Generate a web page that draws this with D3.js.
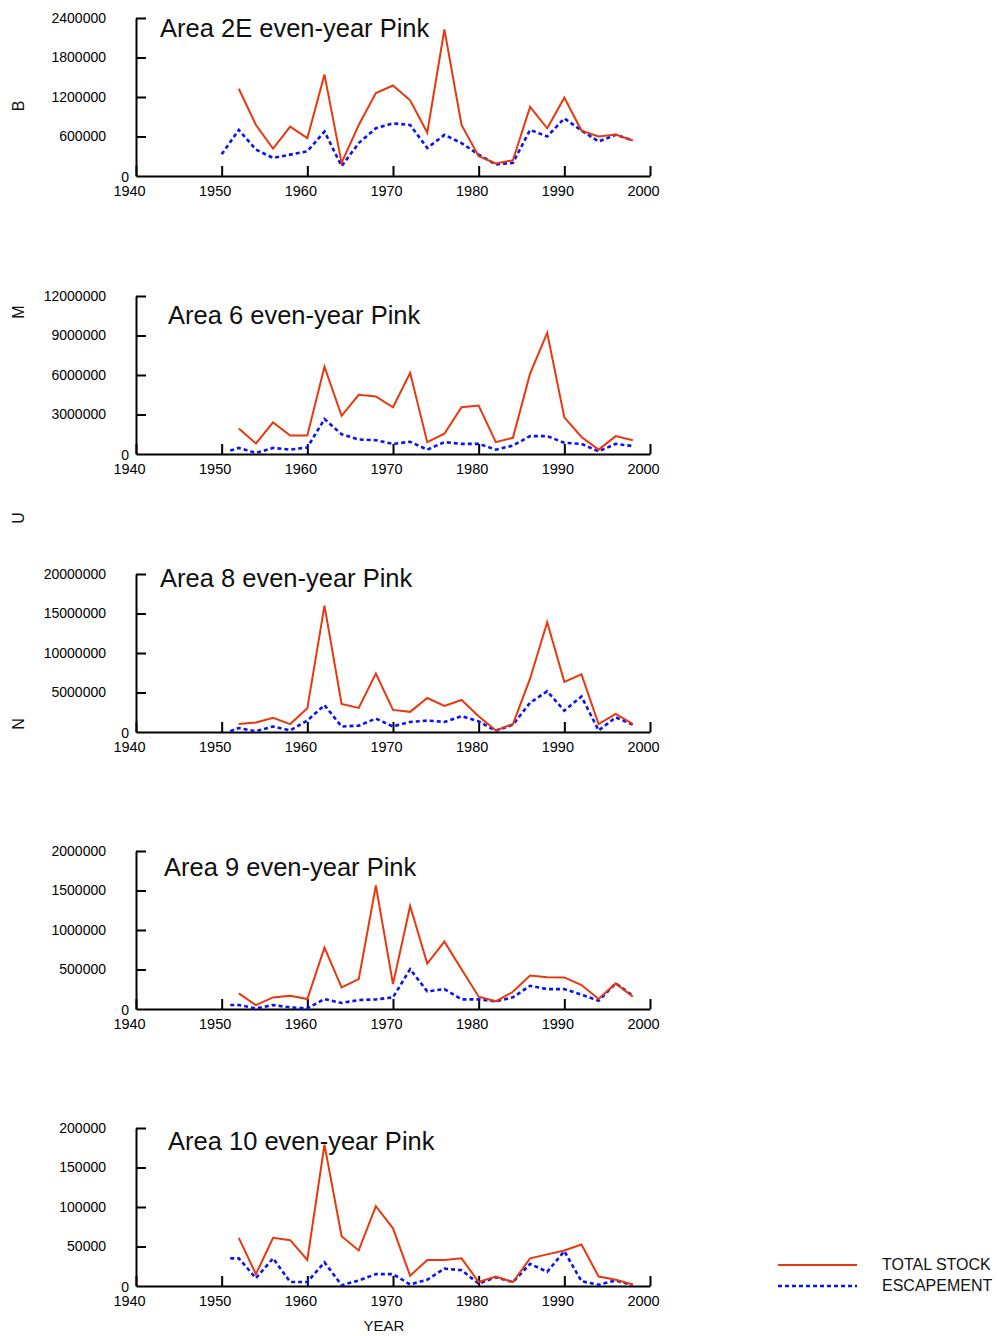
<!DOCTYPE html>
<html>
<head>
<meta charset="utf-8">
<script src="https://cdn.jsdelivr.net/npm/d3@7"></script>
<style>
  body { margin: 0; background: #fff; }
  svg { display: block; font-family: "Liberation Sans", Arial, sans-serif; }
</style>
</head>
<body>
<div id="chart"></div>
<script>
// even years of the total stock (red line)
const totalYears = [1952, 1954, 1956, 1958, 1960, 1962, 1964, 1966, 1968, 1970, 1972, 1974,
                    1976, 1978, 1980, 1982, 1984, 1986, 1988, 1990, 1992, 1994, 1996, 1998];
// escapement (blue dots) starts a little earlier
const escYears2E = [1950, 1952, 1954, 1956, 1958, 1960, 1962, 1964, 1966, 1968, 1970, 1972, 1974,
                    1976, 1978, 1980, 1982, 1984, 1986, 1988, 1990, 1992, 1994, 1996, 1998];
const escYears = [1951, 1952, 1954, 1956, 1958, 1960, 1962, 1964, 1966, 1968, 1970, 1972, 1974,
                  1976, 1978, 1980, 1982, 1984, 1986, 1988, 1990, 1992, 1994, 1996, 1998];

const total2E = [1325000, 775000, 415000, 750000, 575000, 1540000, 200000, 775000, 1260000, 1375000, 1150000, 660000,
                 2225000, 775000, 300000, 190000, 240000, 1050000, 725000, 1190000, 690000, 600000, 630000, 540000];
const esc2E = [330000, 700000, 400000, 275000, 325000, 375000, 675000, 150000, 500000, 725000, 800000, 775000, 425000,
               625000, 500000, 325000, 175000, 200000, 700000, 600000, 875000, 690000, 525000, 625000, 540000];

const total6 = [1940000, 800000, 2400000, 1400000, 1400000, 6630000, 2900000, 4500000, 4370000, 3550000, 6170000, 900000,
                1540000, 3550000, 3680000, 900000, 1230000, 6100000, 9200000, 2780000, 1290000, 330000, 1360000, 1050000];
const esc6 = [260000, 460000, 80000, 460000, 330000, 500000, 2650000, 1500000, 1100000, 1050000, 770000, 930000, 330000,
              900000, 770000, 770000, 330000, 640000, 1360000, 1360000, 850000, 770000, 200000, 770000, 600000];

const total8 = [1000000, 1200000, 1800000, 1000000, 3000000, 16000000, 3550000, 3050000, 7400000, 2800000, 2550000, 4300000,
                3300000, 4050000, 2000000, 200000, 1000000, 6750000, 13900000, 6350000, 7300000, 1000000, 2300000, 1000000];
const esc8 = [100000, 500000, 100000, 700000, 200000, 1450000, 3400000, 700000, 800000, 1700000, 700000, 1270000, 1450000,
              1270000, 2000000, 1350000, 150000, 930000, 3700000, 5150000, 2700000, 4500000, 200000, 1850000, 930000];

const total9 = [197000, 50000, 147000, 168000, 126000, 777000, 273000, 378000, 1563000, 315000, 1303000, 576000,
                853000, 504000, 155000, 97000, 218000, 424000, 403000, 400000, 303000, 126000, 324000, 155000];
const esc9 = [50000, 50000, 8000, 50000, 20000, 8000, 126000, 76000, 113000, 122000, 147000, 504000, 223000,
              252000, 122000, 122000, 97000, 147000, 294000, 252000, 252000, 181000, 105000, 324000, 168000];

const total10 = [61000, 15000, 61000, 58000, 33000, 179000, 63000, 45000, 101000, 73000, 13000, 33000,
                 33000, 35000, 5000, 12000, 5000, 35000, 40000, 45000, 52500, 12000, 8000, 2000];
const esc10 = [35000, 35000, 10000, 35000, 5000, 5000, 30000, 1000, 7000, 15000, 15000, 2000, 8000,
               22000, 20000, 3000, 11000, 5000, 28000, 18000, 44000, 6000, 1500, 7000, 1000];

const yTicks2E = [0, 600000, 1200000, 1800000, 2400000];
const yTicks6 = [0, 3000000, 6000000, 9000000, 12000000];
const yTicks8 = [0, 5000000, 10000000, 15000000, 20000000];
const yTicks9 = [0, 500000, 1000000, 1500000, 2000000];
const yTicks10 = [0, 50000, 100000, 150000, 200000];

const xTicks = [1940, 1950, 1960, 1970, 1980, 1990, 2000];

const titles = ["Area 2E even-year Pink", "Area 6 even-year Pink", "Area 8 even-year Pink",
                "Area 9 even-year Pink", "Area 10 even-year Pink"];
const sideLetters = ["B", "M", "U", "N"];
const legendLabels = ["TOTAL STOCK", "ESCAPEMENT"];

const RED = "#e8380e", BLUE = "#0a14f0";

const panels = [
    { title: titles[0], total: total2E, escYears: escYears2E, esc: esc2E, ticks: yTicks2E },
    { title: titles[1], total: total6, escYears: escYears, esc: esc6, ticks: yTicks6 },
    { title: titles[2], total: total8, escYears: escYears, esc: esc8, ticks: yTicks8 },
    { title: titles[3], total: total9, escYears: escYears, esc: esc9, ticks: yTicks9 },
    { title: titles[4], total: total10, escYears: escYears, esc: esc10, ticks: yTicks10 }
];

// layout (pixels)
const panelTops = [18, 296, 574, 851, 1128];
const panelH = 158;
const titlePos = [[160, 37], [168, 324], [160, 587], [164, 876], [168, 1150]];
const letterY = [106, 312, 518, 724];

const width = 997, height = 1336;
const svg = d3.select("#chart").append("svg").attr("width", width).attr("height", height);
svg.append("rect").attr("width", width).attr("height", height).attr("fill", "#fff");

const x = d3.scaleLinear().domain([1940, 2000]).range([136, 650]);

panels.forEach((p, i) => draw_panel(p, i));

/**
 * UN PANNEAU
 */
function draw_panel(p, i) {
    const top = panelTops[i];
    const y = d3.scaleLinear().domain([0, d3.max(p.ticks)]).range([top + panelH, top]);
    const g = svg.append("g");

    // axe X, graduations vers le haut
    const gx = g.append("g").attr("transform", `translate(0,${top + panelH})`)
        .call(d3.axisBottom(x).tickValues(xTicks).tickFormat(d3.format("d"))
            .tickSizeInner(-10).tickSizeOuter(0).tickPadding(10));
    gx.select(".domain").attr("stroke", "#000").attr("stroke-width", 2);
    gx.selectAll(".tick line").attr("stroke", "#000").attr("stroke-width", 2);
    gx.selectAll(".tick text").attr("dx", -7).attr("font-size", "14.5px")
        .attr("font-family", "Liberation Sans, Arial, sans-serif").attr("fill", "#000");

    // axe Y, graduations vers l'intérieur
    const gy = g.append("g").attr("transform", `translate(${x(1940)},0)`)
        .call(d3.axisLeft(y).tickValues(p.ticks).tickFormat(d3.format("d"))
            .tickSizeInner(-10).tickSizeOuter(0).tickPadding(30));
    gy.select(".domain").attr("stroke", "#000").attr("stroke-width", 2);
    gy.selectAll(".tick line").attr("stroke", "#000").attr("stroke-width", 2);
    gy.selectAll(".tick text").attr("font-size", "14px")
        .attr("font-family", "Liberation Sans, Arial, sans-serif").attr("fill", "#000");
    gy.selectAll(".tick").filter(d => d === 0).select("line").remove();
    gy.selectAll(".tick text").filter(d => d === 0).attr("x", -7).attr("dy", "0.36em");

    // escapement (pointillé bleu)
    const escData = p.escYears.map((yr, k) => [yr, p.esc[k]]);
    g.append("path").datum(escData)
        .attr("d", d3.line().x(d => x(d[0])).y(d => y(d[1])))
        .attr("fill", "none").attr("stroke", BLUE).attr("stroke-width", 2.6)
        .attr("stroke-dasharray", "4,3");

    // total stock (rouge)
    const totData = totalYears.map((yr, k) => [yr, p.total[k]]);
    g.append("path").datum(totData)
        .attr("d", d3.line().x(d => x(d[0])).y(d => y(d[1])))
        .attr("fill", "none").attr("stroke", RED).attr("stroke-width", 2);

    g.append("text").attr("x", titlePos[i][0]).attr("y", titlePos[i][1])
        .attr("font-size", "25.5px").attr("fill", "#111").text(p.title);
}

// lettres verticales à gauche
sideLetters.forEach((l, i) => {
    svg.append("text").attr("transform", `translate(24,${letterY[i]}) rotate(-90)`)
        .attr("text-anchor", "middle").attr("font-size", "16px").attr("fill", "#111").text(l);
});

// titre de l'axe X
svg.append("text").attr("x", 384).attr("y", 1331).attr("text-anchor", "middle")
    .attr("font-size", "15px").attr("fill", "#111").text("YEAR");

// légende
const legend = svg.append("g");
[[RED, "none", 2], [BLUE, "4,3", 2.6]].forEach((s, i) => {
    const ly = 1265 + i * 21;
    legend.append("line").attr("x1", 778).attr("x2", 857).attr("y1", ly).attr("y2", ly)
        .attr("stroke", s[0]).attr("stroke-dasharray", s[1]).attr("stroke-width", s[2]);
    legend.append("text").attr("x", 882).attr("y", ly + 5).attr("font-size", "16px")
        .attr("fill", "#111").text(legendLabels[i]);
});
</script>
</body>
</html>
